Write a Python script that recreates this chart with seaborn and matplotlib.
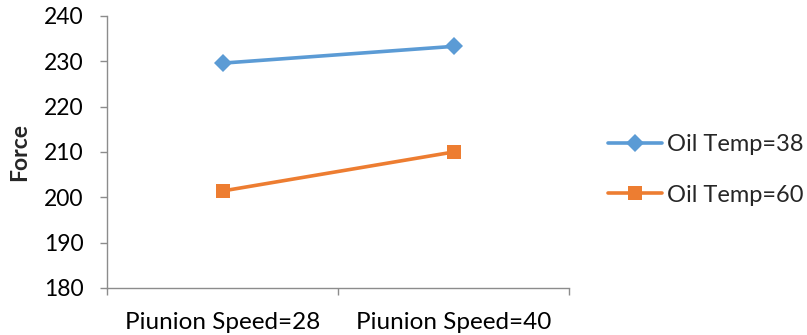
import matplotlib
matplotlib.use("Agg")
import matplotlib.pyplot as plt
import seaborn as sns
import pandas as pd
from matplotlib.ticker import FixedLocator

sns.set_style("white")
plt.rcParams["font.family"] = ["Lato", "DejaVu Sans"]

# Data
speeds = ["Piunion Speed=28", "Piunion Speed=40"]
temp_38 = [229.6, 233.3]
temp_60 = [201.4, 210.0]
series_names = ["Oil Temp=38", "Oil Temp=60"]
y_ticks = [180, 190, 200, 210, 220, 230, 240]

df = pd.DataFrame({
    "speed": speeds * 2,
    "force": temp_38 + temp_60,
    "temp": [series_names[0]] * 2 + [series_names[1]] * 2,
})

blue = "#5B9BD5"
orange = "#ED7D31"
axis_gray = "#8C8C8C"

fig = plt.figure(figsize=(8.07, 3.35), dpi=100)
ax = fig.add_axes([107 / 807, 1 - 288 / 335, 462 / 807, 272 / 335])

sns.lineplot(
    data=df, x="speed", y="force", hue="temp", style="temp",
    palette={series_names[0]: blue, series_names[1]: orange},
    markers={series_names[0]: "D", series_names[1]: "s"},
    dashes=False, sort=False, linewidth=2.6, markersize=10,
    markeredgewidth=0, ax=ax,
)
# Diamond drawn a touch smaller than the square
for line in ax.get_lines():
    if line.get_marker() == "D":
        line.set_markersize(9)

ax.set_xlim(-0.5, 1.5)
ax.set_ylim(180, 240)
ax.set_yticks(y_ticks)
ax.set_xticks([0, 1])
ax.set_xticklabels(speeds)
ax.xaxis.set_minor_locator(FixedLocator([-0.5, 0.5, 1.5]))

ax.tick_params(axis="y", which="major", direction="out", length=5, width=1,
               color=axis_gray, labelsize=16.5, pad=12, labelcolor="black", left=True)
ax.tick_params(axis="x", which="major", length=0, labelsize=17.5, pad=17, labelcolor="black")
ax.tick_params(axis="x", which="minor", direction="out", length=5, width=1,
               color=axis_gray, bottom=True)

for side in ["top", "right"]:
    ax.spines[side].set_visible(False)
for side in ["left", "bottom"]:
    ax.spines[side].set_color(axis_gray)
    ax.spines[side].set_linewidth(1)

ax.set_xlabel("")
ax.set_ylabel("Force", fontsize=16.5, fontweight="bold")
ax.yaxis.set_label_coords(-0.166, 0.5)

handles, labels = ax.get_legend_handles_labels()
leg = ax.legend(handles, labels, loc="center left",
                bbox_to_anchor=(608 / 807, 1 - 170 / 335),
                bbox_transform=fig.transFigure, frameon=False,
                fontsize=17, handlelength=2.3, handletextpad=0.2,
                labelspacing=1.25, borderpad=0, borderaxespad=0)

fig.savefig("out.png", dpi=100)
